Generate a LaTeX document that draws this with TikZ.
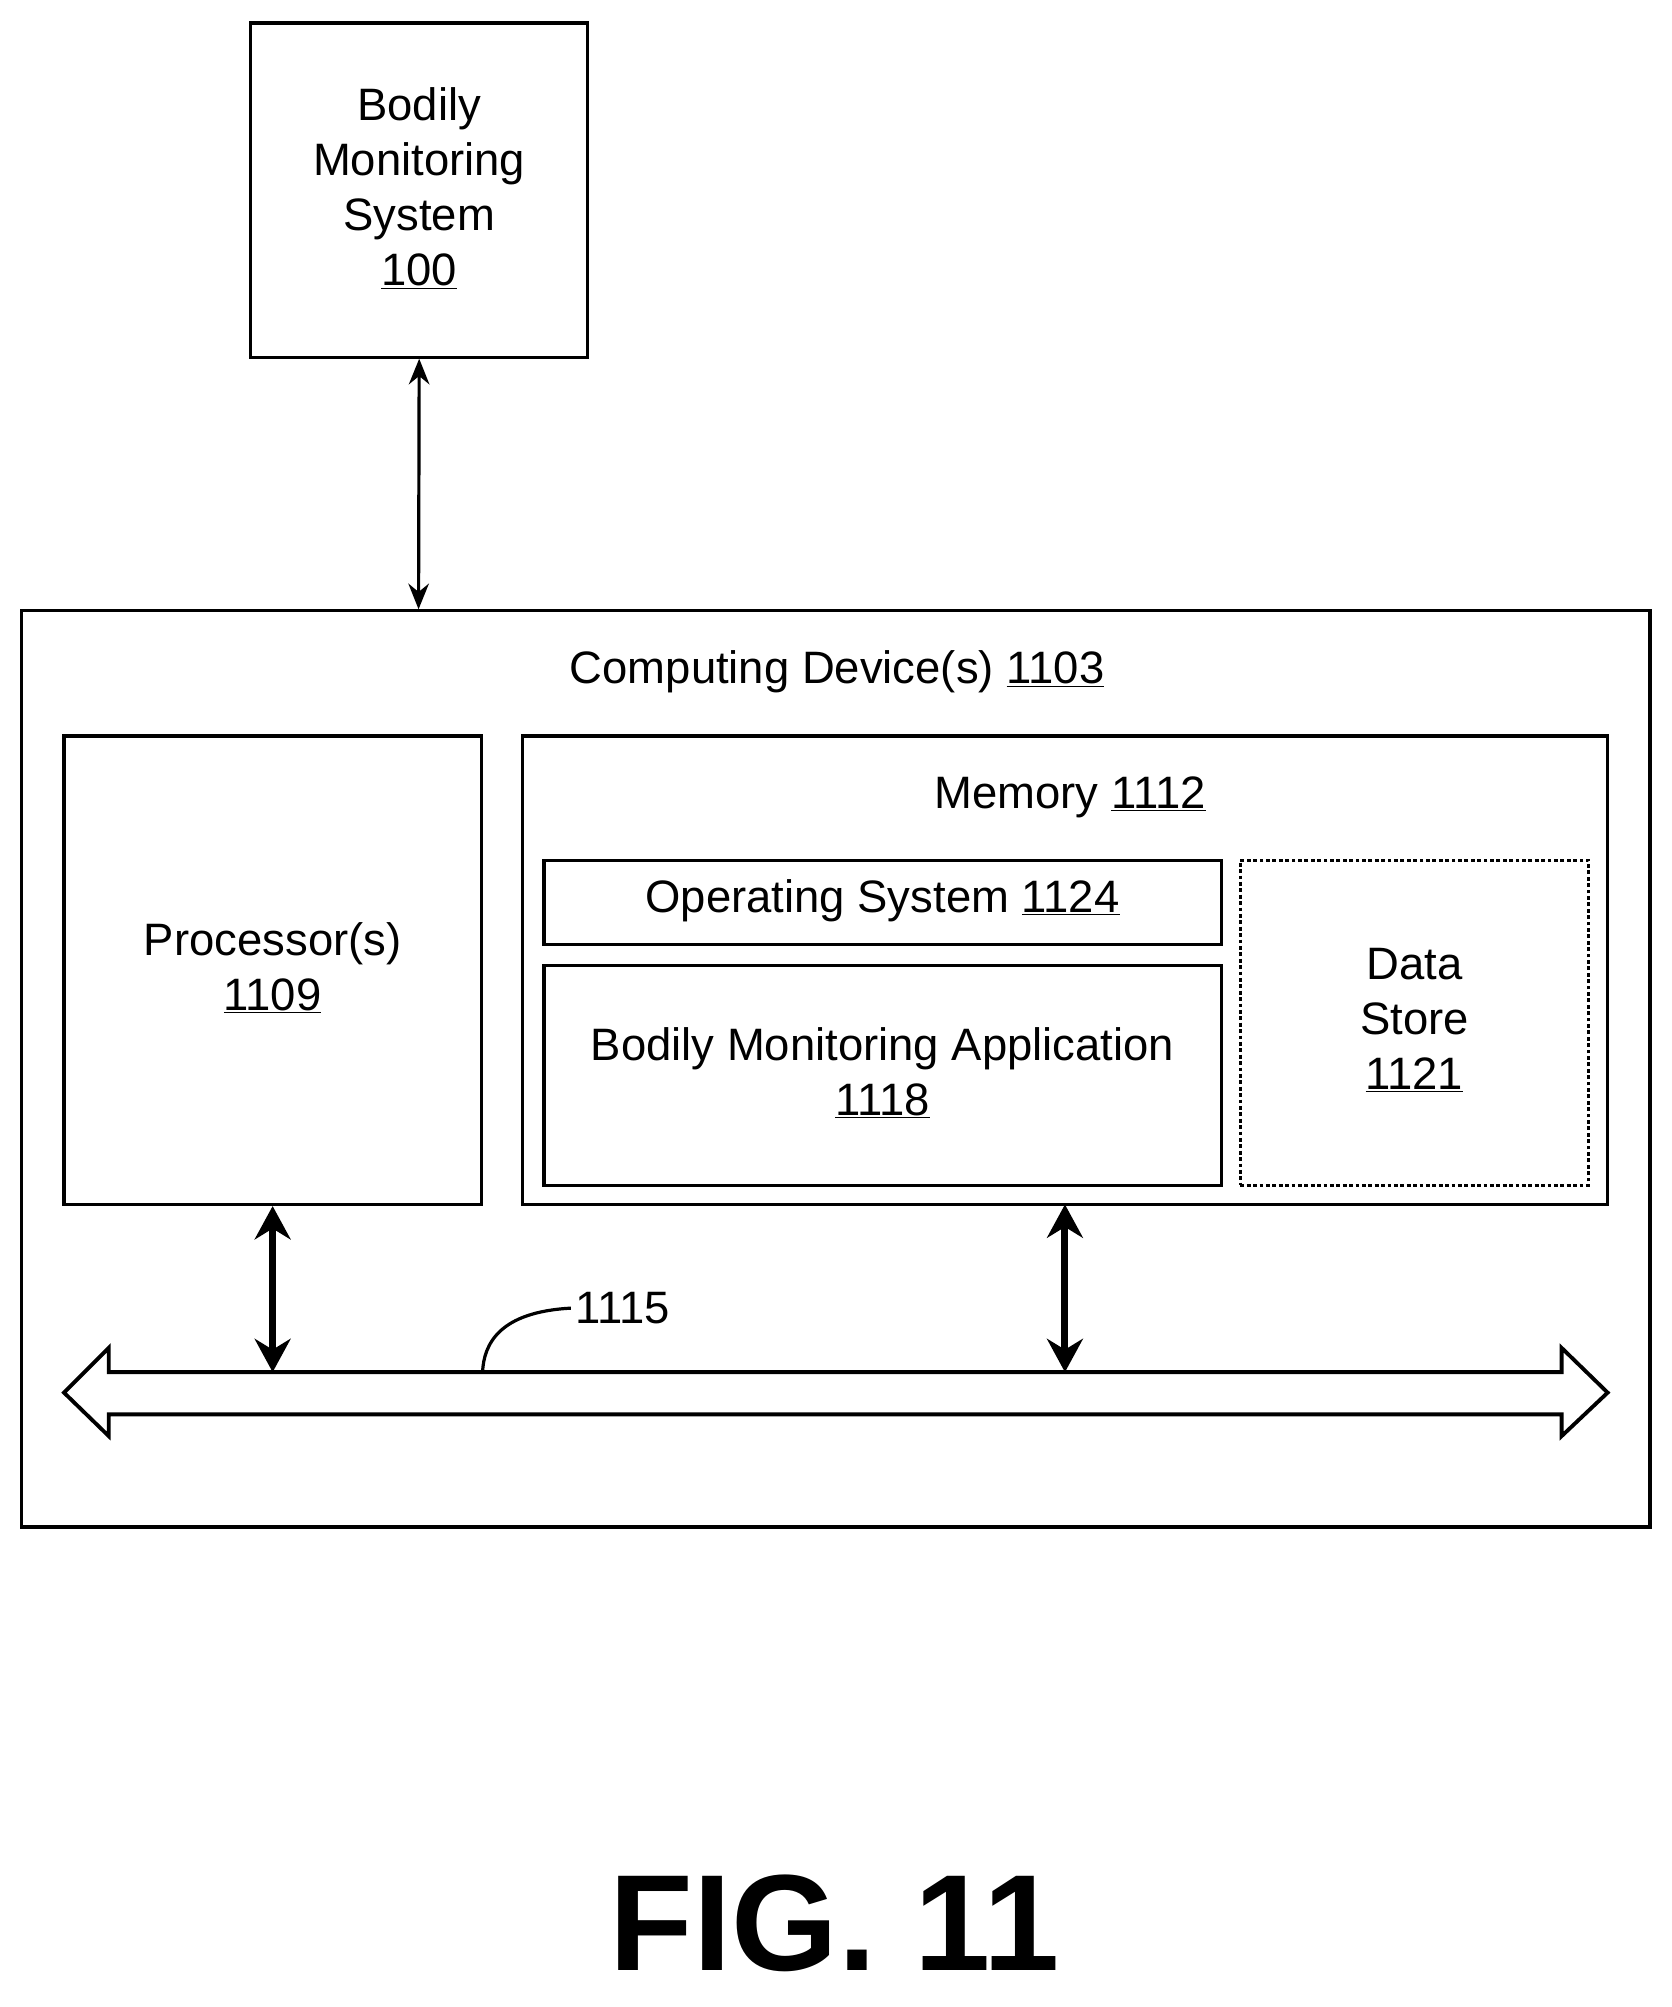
\documentclass[tikz,border=0pt]{standalone}
\usepackage{fontspec}
\setmainfont{Liberation Sans}
\usetikzlibrary{arrows.meta}
\begin{document}
\begin{tikzpicture}[x=1pt,y=-1pt,
  box/.style={draw,line width=2.5pt,inner sep=0pt},
  txt/.style={font=\fontsize{35.5}{43}\selectfont,align=center},
  thin/.style={line width=2.5pt,{Stealth[length=20pt,width=16pt]}-{Stealth[length=20pt,width=16pt]}},
  thick/.style={line width=5.5pt,{Stealth[length=26pt,width=28pt]}-{Stealth[length=26pt,width=28pt]}}]
\useasboundingbox (0,0) rectangle (1306,1568);
\node[box,minimum width=263pt,minimum height=261pt] (bms) at (327.5,148.5) {};
\node[txt] at (327.5,147) {Bodily\\Monitoring\\System\\\underline{100}};
\node[box,minimum width=1272pt,minimum height=716pt] (cd) at (653,835) {};
\node[txt] (cdt) at (654,525) {Computing Device(s) \underline{1103}};
\node[box,minimum width=326pt,minimum height=366pt] (proc) at (213,758) {};
\node[txt] at (213,756) {Processor(s)\\\underline{1109}};
\node[box,minimum width=848pt,minimum height=366pt] (mem) at (832,758) {};
\node[txt] (memt) at (836,623) {Memory \underline{1112}};
\node[box,minimum width=529pt,minimum height=66pt] (os) at (689.5,705) {};
\node[txt] at (689.5,704) {Operating System \underline{1124}};
\node[box,minimum width=529pt,minimum height=172pt] (bma) at (689.5,840) {};
\node[txt] at (689.5,838) {Bodily Monitoring Application\\\underline{1118}};
\node[box,dash pattern=on 3pt off 2pt,minimum width=272pt,minimum height=254pt] (ds) at (1105,799) {};
\node[txt] at (1105,797) {Data\\Store\\\underline{1121}};
\coordinate (bt) at (327,476);
\draw[thin] (bms.south) -- (bt);
% bus
\draw[line width=3pt,fill=white] (50,1088) -- (85,1053) -- (85,1072) -- (1220,1072) -- (1220,1053) -- (1256,1088) -- (1220,1122) -- (1220,1105) -- (85,1105) -- (85,1122) -- cycle;
\coordinate (b1) at (213,1072);
\coordinate (b2) at (832,1072);
\draw[thick] (proc.south) -- (b1);
\draw[thick] (832,941) -- (b2);
\node[txt,anchor=west] (lbl) at (446,1022) {1115};
\draw[line width=2.5pt] (lbl.west) .. controls (390,1025) and (378,1050) .. (377,1072);
\node[font=\fontsize{107}{115}\selectfont\bfseries] (fig) at (652,1503) {FIG. 11};
\end{tikzpicture}
\end{document}
